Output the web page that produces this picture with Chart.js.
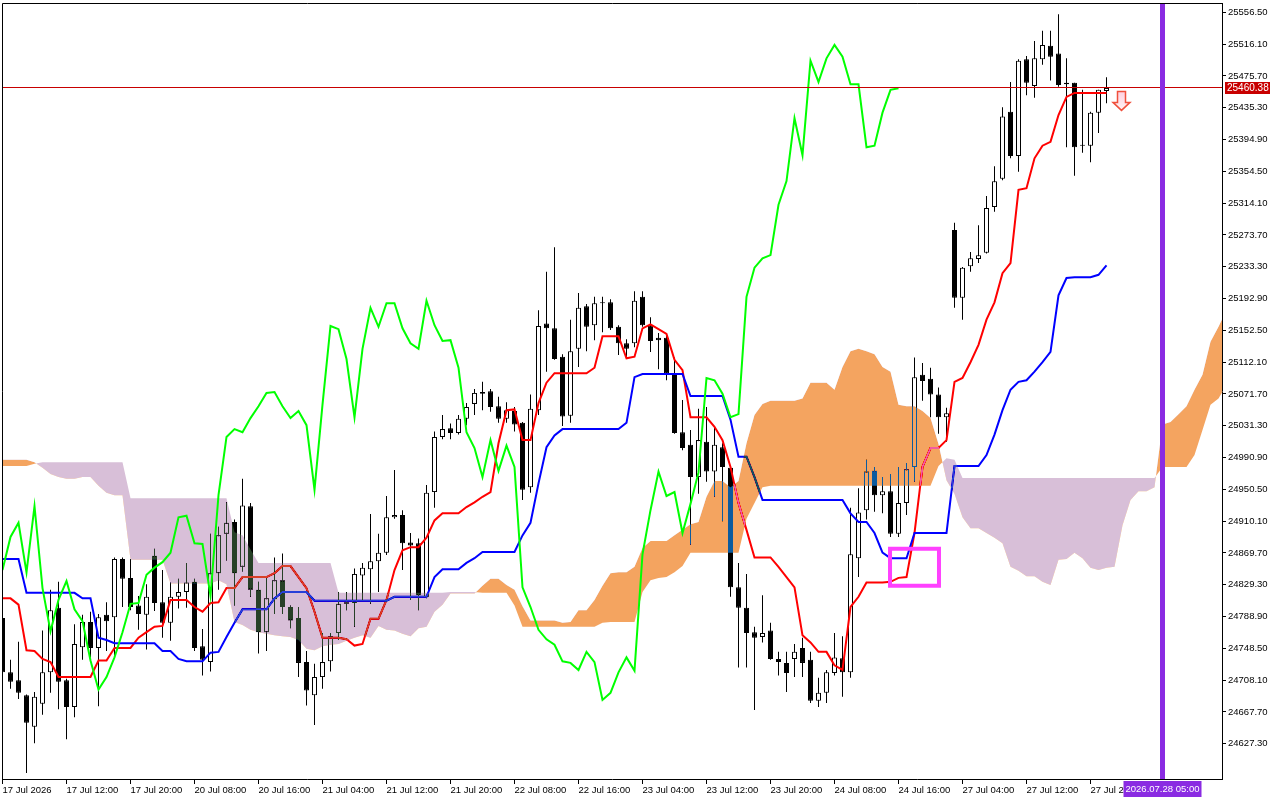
<!DOCTYPE html>
<html><head><meta charset="utf-8">
<script src="https://cdn.jsdelivr.net/npm/chart.js@4.4.1/dist/chart.umd.min.js"></script>
<style>html,body{margin:0;padding:0;background:#fff;overflow:hidden}canvas{display:block}</style>
</head><body>
<canvas id="c" width="1280" height="800"></canvas>
<script>
// ---- DATA (H1 bars, 17 Jul 2026 04:00 .. 27 Jul 2026 22:00) ----
const opens = [
24787,24718,24708,24689,24649,24678,24718,24800,24708,24674,
24750,24782,24749,24791,24788,24862,24838,24803,24791,24866,
24807,24781,24814,24820,24833,24751,24731,24844,24894,24909,
24852,24929,24823,24769,24811,24835,24801,24787,24731,24689,
24712,24732,24768,24805,24806,24841,24849,24859,24870,24915,
24918,24883,24882,24814,24947,25017,25028,25022,25040,25059,
25072,25075,25056,25040,25050,25035,24953,25051,25161,25155,
25119,25044,25129,25183,25159,25188,25188,25157,25136,25136,
25195,25159,25143,25143,25098,25023,25007,24966,25011,24973,
25004,24978,24826,24800,24769,24763,24771,24735,24730,24735,
24749,24734,24682,24692,24717,24736,24718,24863,24924,24974,
24943,24948,24894,24933,24979,25096,25091,25071,25042,25280,
25194,25234,25243,25251,25309,25345,25430,25374,25497,25463,
25497,25514,25504,25467,25467,25388,25387,25429,25456.5];
const highs = [
24790,24734,24757,24690,24693,24771,24823,24833,24710,24779,
24791,24795,24792,24807,24864,24864,24862,24815,24830,24875,
24848,24832,24837,24857,24837,24773,24894,24903,24934,24912,
24964,24933,24833,24840,24864,24869,24803,24801,24745,24729,
24768,24768,24820,24820,24850,24857,24919,24894,24942,24975,
24924,24895,24888,24956,25024,25045,25034,25045,25060,25078,
25087,25078,25068,25061,25055,25036,25071,25178,25227,25258,
25122,25166,25200,25186,25195,25195,25192,25159,25141,25202,
25202,25169,25149,25146,25118,25064,25026,25053,25055,25030,
25009,24979,24857,24843,24776,24816,24781,24744,24744,24754,
24762,24744,24711,24721,24768,24764,24927,24952,24988,24979,
24966,24970,24979,24984,25118,25111,25105,25080,25054,25289,
25233,25252,25286,25323,25361,25436,25468,25497,25501,25520,
25533,25533,25554,25498,25467,25458,25430,25458,25474];
const lows = [
24715,24697,24684,24590,24628,24664,24692,24671,24633,24661,
24734,24737,24675,24745,24737,24801,24797,24772,24747,24796,
24762,24758,24799,24800,24745,24714,24719,24823,24860,24803,
24846,24814,24742,24745,24792,24792,24774,24712,24676,24651,
24697,24719,24759,24797,24776,24810,24805,24820,24867,24913,
24848,24810,24797,24812,24927,25014,25014,25020,25032,25045,
25051,25049,25035,25035,25024,24937,24946,25045,25100,25115,
25031,25035,25106,25126,25140,25150,25153,25121,25117,25131,
25157,25125,25103,25089,25021,25000,24880,24945,24960,24941,
24910,24814,24724,24724,24670,24756,24734,24714,24693,24712,
24712,24679,24674,24679,24714,24687,24711,24839,24912,24922,
24920,24890,24890,24918,24960,25063,25042,25021,25011,25181,
25166,25227,25238,25250,25303,25343,25371,25354,25451,25448,
25490,25470,25462,25385,25349,25378,25366,25403,25441];
const closes = [
24718,24706,24692,24654,24687,24718,24797,24706,24674,24754,
24782,24749,24788,24783,24862,24837,24801,24792,24814,24806,
24781,24814,24820,24832,24749,24734,24844,24892,24908,24844,
24930,24823,24769,24812,24835,24801,24784,24730,24695,24712,
24731,24764,24805,24807,24843,24851,24859,24870,24915,24918,
24882,24879,24816,24946,25017,25027,25022,25040,25055,25073,
25074,25055,25040,25051,25033,24950,25053,25158,25155,25116,
25043,25126,25181,25157,25187,25187,25155,25136,25129,25190,
25159,25139,25140,25098,25022,25003,24966,25013,24973,25007,
24979,24826,24800,24768,24762,24768,24735,24731,24717,24744,
24730,24682,24692,24718,24737,24718,24868,24921,24973,24943,
24948,24894,24933,24976,25093,25088,25071,25042,25047,25194,
25232,25244,25248,25308,25342,25424,25374,25495,25467,25498,
25515,25500,25464,25465,25385,25387,25429,25458,25460.38];
const tenkan = [
24812,24812,24804,24746,24745,24735,24731,24712,24712,24712,
24712,24712,24733,24733,24749,24749,24749,24762,24769,24776,
24777,24810,24810,24810,24801,24795,24806,24807,24825,24825,
24839,24839,24839,24839,24844,24853,24853,24839,24825,24795,
24762,24762,24762,24760,24752,24754,24786,24786,24810,24848,
24873,24877,24877,24889,24911,24920,24920,24920,24928,24934,
24941,24947,25009,25051,25052,25013,25013,25060,25086,25098,
25098,25098,25098,25098,25105,25145,25145,25145,25117,25119,
25155,25160,25154,25148,25115,25102,25042,25042,25042,25030,
25013,24979,24933,24899,24864,24864,24864,24852,24839,24826,
24765,24756,24744,24744,24727,24721,24801,24814,24832,24832,
24832,24833,24838,24839,24895,24979,25003,25003,25013,25087,
25092,25112,25134,25166,25188,25225,25238,25331,25333,25371,
25387,25392,25426,25449,25454,25454,25454,25454,25454];
const kijun = [
24862,24862,24862,24819,24819,24819,24819,24819,24819,24819,
24812,24812,24762,24759,24755,24755,24755,24755,24755,24755,
24745,24745,24735,24732,24732,24732,24743,24744,24763,24781,
24798,24798,24798,24798,24812,24820,24820,24820,24820,24809,
24809,24809,24809,24809,24809,24809,24809,24809,24809,24814,
24814,24814,24814,24814,24839,24849,24849,24849,24857,24863,
24871,24871,24871,24871,24871,24892,24908,24958,25004,25019,
25027,25027,25027,25027,25027,25027,25027,25027,25035,25093,
25097,25097,25097,25097,25097,25097,25069,25069,25069,25069,
25069,25039,24992,24992,24966,24937,24937,24937,24937,24937,
24937,24937,24937,24937,24937,24937,24920,24909,24909,24895,
24870,24863,24863,24863,24895,24895,24895,24895,24895,24980,
24980,24980,24980,24994,25020,25051,25077,25087,25089,25100,
25112,25125,25197,25219,25220,25220,25220,25223,25235];
const chikou = [
24848,24890,24908,24845,24929,24825,24770,24810,24834,24798,
24783,24733,24696,24712,24737,24769,24805,24806,24842,24851,
24858,24870,24915,24917,24882,24881,24815,24943,25017,25027,
25023,25041,25056,25073,25074,25056,25041,25050,25032,24950,
25058,25158,25154,25116,25042,25129,25181,25157,25187,25187,
25155,25136,25129,25190,25159,25139,25140,25105,25023,25003,
24966,25013,24974,25006,24979,24826,24801,24772,24760,24753,
24732,24730,24721,24744,24731,24683,24692,24718,24737,24720,
24868,24924,24973,24942,24947,24895,24932,24972,25092,25089,
25072,25042,25046,25195,25232,25244,25248,25312,25342,25422,
25375,25495,25468,25498,25515,25500,25465,25465,25385,25387,
25429,25458,25460];
const spanA = [
24988,24988,24988,24988,24985,24978,24970,24966,24964,24964,
24966,24966,24955,24946,24943,24943,24861,24861,24861,24861,
24861,24831,24831,24831,24831,24831,24831,24835,24830,24782,
24778,24772,24769,24767,24765,24764,24763,24759,24748,24746,
24751,24753,24754,24758,24762,24765,24762,24777,24772,24771,
24767,24764,24774,24776,24795,24804,24818,24818,24818,24818,
24828,24837,24837,24829,24823,24802,24784,24784,24784,24784,
24781,24782,24797,24797,24810,24828,24844,24845,24845,24852,
24876,24885,24885,24885,24892,24899,24906,24909,24941,24961,
24961,24953,24961,25009,25045,25059,25063,25063,25063,25063,
25066,25086,25086,25086,25077,25106,25126,25129,25126,25122,
25106,25100,25058,25056,25056,25050,25041,25008,24962,24945,
24915,24901,24901,24895,24889,24882,24852,24847,24840,24840,
24833,24829,24861,24862,24870,24863,24851,24848,24851,24852,
24905,24937,24948,24948,24953,25033,25036,25046,25056,25077,
25096,25138,25157,25178];
const spanB = [
24980,24980,24980,24980,24983,24985,24985,24985,24985,24985,
24985,24985,24985,24985,24985,24985,24939,24939,24939,24939,
24939,24939,24939,24939,24939,24939,24939,24939,24939,24896,
24892,24874,24857,24857,24857,24857,24857,24857,24857,24857,
24857,24857,24819,24819,24819,24819,24819,24819,24819,24819,
24819,24819,24819,24819,24819,24819,24820,24820,24820,24820,
24819,24819,24819,24819,24803,24776,24776,24776,24776,24776,
24776,24776,24776,24776,24776,24781,24782,24782,24782,24782,
24820,24835,24838,24839,24845,24853,24870,24870,24870,24870,
24870,24870,24870,24913,24933,24953,24955,24955,24955,24955,
24955,24955,24955,24955,24955,24955,24955,24955,24955,24955,
24955,24955,24955,24955,24955,24955,24955,24980,24990,24988,
24965,24965,24965,24965,24965,24965,24965,24965,24965,24965,
24965,24965,24965,24965,24965,24965,24965,24965,24965,24965,
24965,24965,24965,24965,24965,24979,24979,24979,24979,24994,
25026,25058,25066,25083];
const timeTicks  = [0,8,16,24,32,40,48,56,64,72,80,88,96,104,112,120,128,136];
const timeLabels = ['17 Jul 2026','17 Jul 12:00','17 Jul 20:00','20 Jul 08:00','20 Jul 16:00',
  '21 Jul 04:00','21 Jul 12:00','21 Jul 20:00','22 Jul 08:00','22 Jul 16:00','23 Jul 04:00',
  '23 Jul 12:00','23 Jul 20:00','24 Jul 08:00','24 Jul 16:00','27 Jul 04:00','27 Jul 12:00','27 Jul 20:00'];
const priceTicks = [24627.30,24667.70,24708.10,24748.50,24788.90,24829.30,24869.70,24910.10,
  24950.50,24990.90,25031.30,25071.70,25112.10,25152.50,25192.90,25233.30,25273.70,25314.10,
  25354.50,25394.90,25435.30,25475.70,25516.10,25556.50];
const priceMin = 24582.5, priceMax = 25568.3;
const barMin = -0.0625, barMax = 152.4375;
const bidPrice = 25460.38;
const vlineBar = 145, vlineLabel = '2026.07.28 05:00';
const boxBars = [110.94, 117.06], boxPrices = [24875, 24828];
const arrowBar = 139.875, arrowPrice = 25456;

// ---- CHART ----
const FONT = {family: '"Liberation Sans", Arial, sans-serif', size: 9.5};
const pts = arr => arr.map((v, i) => ({x: i, y: v}));
const idx = closes.map((_, i) => i);

const bgPlugin = {id: 'bg', beforeDraw(ch) { const c = ch.ctx; c.save(); c.fillStyle = '#fff'; c.fillRect(0, 0, ch.width, ch.height); c.restore(); }};
const xorPlugin = {id: 'xorcloud', afterDatasetDraw(ch, args) {
  if (args.index === 3) ch.ctx.globalCompositeOperation = 'difference';
  if (args.index === 5) ch.ctx.globalCompositeOperation = 'source-over';
}};
const overlay = {id: 'overlay', afterDraw(ch) {
  const c = ch.ctx, a = ch.chartArea, xs = ch.scales.x, ys = ch.scales.y;
  c.save();
  c.beginPath(); c.rect(a.left, a.top, a.right - a.left, a.bottom - a.top); c.clip();
  // bid line
  const by = Math.round(ys.getPixelForValue(bidPrice)) - 0.5;
  c.strokeStyle = '#c80000'; c.lineWidth = 1;
  c.beginPath(); c.moveTo(a.left, by); c.lineTo(a.right, by); c.stroke();
  // magenta rectangle
  const rx1 = xs.getPixelForValue(boxBars[0]), rx2 = xs.getPixelForValue(boxBars[1]);
  const ry1 = ys.getPixelForValue(boxPrices[0]), ry2 = ys.getPixelForValue(boxPrices[1]);
  c.strokeStyle = '#ff40ff'; c.lineWidth = 4;
  c.strokeRect(rx1, ry1, rx2 - rx1, ry2 - ry1);
  // sell arrow
  const ax = xs.getPixelForValue(arrowBar), ay = ys.getPixelForValue(arrowPrice);
  c.beginPath();
  c.moveTo(ax - 4, ay); c.lineTo(ax + 4, ay); c.lineTo(ax + 4, ay + 11); c.lineTo(ax + 8.5, ay + 11);
  c.lineTo(ax, ay + 19); c.lineTo(ax - 8.5, ay + 11); c.lineTo(ax - 4, ay + 11); c.closePath();
  const g = c.createLinearGradient(0, ay, 0, ay + 19);
  g.addColorStop(0, '#ffd0e0'); g.addColorStop(1, '#fff4f4');
  c.fillStyle = g; c.fill();
  c.strokeStyle = '#f0503c'; c.lineWidth = 1.5; c.stroke();
  // vertical line
  const vx = xs.getPixelForValue(vlineBar);
  c.fillStyle = '#8a2be2';
  c.fillRect(vx - 2.5, a.top, 5, a.bottom - a.top);
  c.restore();
  // top & left frame
  c.save();
  c.strokeStyle = '#000'; c.lineWidth = 1;
  c.beginPath(); c.moveTo(a.left + 0.5, a.bottom); c.lineTo(a.left + 0.5, a.top + 0.5); c.lineTo(a.right, a.top + 0.5); c.stroke();
  // bid price label
  c.font = '10px ' + FONT.family;
  c.textBaseline = 'middle'; c.textAlign = 'left';
  c.fillStyle = '#c80000';
  c.fillRect(a.right + 3, by - 5.5, 45, 12);
  c.fillStyle = '#fff';
  c.fillText(bidPrice.toFixed(2), a.right + 5, by + 0.5);
  // date label for vertical line
  c.font = FONT.size + 'px ' + FONT.family;
  c.fillStyle = '#8a2be2';
  c.fillRect(vx - 39, a.bottom + 2, 78, 16);
  c.fillStyle = '#fff'; c.textAlign = 'center';
  c.fillText(vlineLabel, vx, a.bottom + 10.5);
  c.restore();
}};

new Chart(document.getElementById('c'), {
  type: 'bar',
  data: {
    datasets: [
      {type: 'bar', label: 'wick', data: idx.map(i => ({x: i, y: [lows[i], highs[i]]})),
       backgroundColor: '#000', borderWidth: 0, barThickness: 1, grouped: false, inflateAmount: 0, order: 10},
      {type: 'bar', label: 'body', data: idx.map(i => ({x: i, y: [opens[i], closes[i]]})),
       backgroundColor: idx.map(i => closes[i] >= opens[i] ? '#ffffff' : '#000000'),
       borderColor: '#000', borderWidth: 1, borderSkipped: false, barThickness: 5, minBarLength: 1,
       grouped: false, inflateAmount: 0, order: 9},
      {type: 'line', label: 'Tenkan-sen', data: pts(tenkan), borderColor: '#ff0000', borderWidth: 2,
       pointRadius: 0, fill: false, tension: 0, order: 8},
      {type: 'line', label: 'Kijun-sen', data: pts(kijun), borderColor: '#0000ff', borderWidth: 2,
       pointRadius: 0, fill: false, tension: 0, order: 7},
      {type: 'line', label: 'Senkou Span A', data: pts(spanA), borderColor: 'rgba(0,0,0,0)', borderWidth: 0,
       pointRadius: 0, fill: false, tension: 0, order: 6},
      {type: 'line', label: 'Senkou Span B', data: pts(spanB), borderColor: 'rgba(0,0,0,0)', borderWidth: 0,
       pointRadius: 0, tension: 0, order: 5,
       fill: {target: 4, above: 'rgb(39,64,39)', below: 'rgb(11,91,159)'}},
      {type: 'line', label: 'Chikou Span', data: pts(chikou), borderColor: '#00ff00', borderWidth: 2,
       pointRadius: 0, fill: false, tension: 0, order: 4}
    ]
  },
  options: {
    responsive: false, animation: false, devicePixelRatio: 1,
    layout: {padding: {left: 2, top: 3, right: 0, bottom: 0}},
    plugins: {legend: {display: false}, tooltip: {enabled: false}},
    scales: {
      x: {type: 'linear', min: barMin, max: barMax, offset: false,
        afterBuildTicks: s => { s.ticks = timeTicks.map(v => ({value: v})); },
        afterFit: s => { s.height = 21; s.paddingLeft = 0; s.paddingRight = 0; },
        ticks: {autoSkip: false, maxRotation: 0, minRotation: 0, align: 'start', padding: 1, color: '#000', font: FONT,
          callback: v => { const k = timeTicks.indexOf(v); return k >= 0 ? timeLabels[k] : ''; }},
        grid: {display: true, drawOnChartArea: false, drawTicks: true, tickLength: 5, color: '#000', offset: false},
        border: {display: true, color: '#000', width: 1}},
      y: {type: 'linear', position: 'right', min: priceMin, max: priceMax,
        afterBuildTicks: s => { s.ticks = priceTicks.map(v => ({value: v})); },
        afterFit: s => { s.width = 58; s.paddingTop = 0; s.paddingBottom = 0; },
        ticks: {autoSkip: false, padding: 2, color: '#000', font: FONT, callback: v => Number(v).toFixed(2)},
        grid: {display: true, drawOnChartArea: false, drawTicks: true, tickLength: 4, color: '#000'},
        border: {display: true, color: '#000', width: 1}}
    }
  },
  plugins: [bgPlugin, xorPlugin, overlay]
});
</script>
</body></html>
